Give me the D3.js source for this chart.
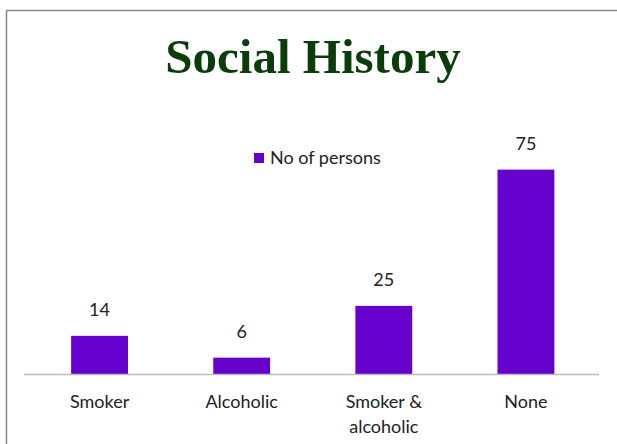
<!DOCTYPE html>
<html>
<head>
<meta charset="utf-8">
<script src="https://cdn.jsdelivr.net/npm/d3@7"></script>
<style>
  body { margin: 0; background: #fff; }
  svg text { font-family: Lato, "Open Sans", sans-serif; fill: #222; }
</style>
</head>
<body>
<div id="chart"></div>
<script>
// chart data
var categories = ["Smoker", "Alcoholic", "Smoker & alcoholic", "None"];
var categoryLines = [["Smoker"], ["Alcoholic"], ["Smoker &", "alcoholic"], ["None"]];
var persons = [14, 6, 25, 75];
var seriesName = "No of persons";
var chartTitle = "Social History";

var width = 617, height = 444;
var svg = d3.select("#chart").append("svg")
  .attr("width", width)
  .attr("height", height);

// outer frame (only top and left edges show)
svg.append("path")
  .attr("d", "M6.5,444 V10.5 H617")
  .attr("fill", "none")
  .attr("stroke", "#888")
  .attr("stroke-width", 1.5);

// title
svg.append("text")
  .attr("x", 313)
  .attr("y", 73)
  .attr("text-anchor", "middle")
  .style("font-family", "'Liberation Serif', 'Times New Roman', serif")
  .style("font-weight", "bold")
  .style("font-size", "49px")
  .style("fill", "#0b3d0b")
  .text(chartTitle);

// scales
var xScale = d3.scaleBand()
  .domain(categories)
  .range([28.5, 597])
  .paddingInner(0.6)
  .paddingOuter(0.3);
var yScale = d3.scaleLinear()
  .domain([0, 80])
  .range([374, 156]);

// bars
svg.selectAll("rect.bar")
  .data(persons)
  .enter().append("rect")
  .attr("class", "bar")
  .attr("x", function(d, i) { return xScale(categories[i]); })
  .attr("y", function(d) { return yScale(d); })
  .attr("width", xScale.bandwidth())
  .attr("height", function(d) { return yScale(0) - yScale(d); })
  .attr("fill", "#6600cc");

// axis line
svg.append("line")
  .attr("x1", 24).attr("x2", 599)
  .attr("y1", 374.5).attr("y2", 374.5)
  .attr("stroke", "#bbb")
  .attr("stroke-width", 1.5);

// value labels
svg.selectAll("text.value")
  .data(persons)
  .enter().append("text")
  .attr("class", "value")
  .attr("x", function(d, i) { return xScale(categories[i]) + xScale.bandwidth() / 2; })
  .attr("y", function(d) { return yScale(d) - 20; })
  .attr("text-anchor", "middle")
  .style("font-size", "18px")
  .text(function(d) { return d; });

// category labels
var catLabels = svg.selectAll("text.cat")
  .data(categoryLines)
  .enter().append("text")
  .attr("class", "cat")
  .attr("text-anchor", "middle")
  .style("font-size", "18px")
  .attr("transform", function(d, i) {
    return "translate(" + (xScale(categories[i]) + xScale.bandwidth() / 2) + ",408)";
  });
catLabels.selectAll("tspan")
  .data(function(d) { return d; })
  .enter().append("tspan")
  .attr("x", 0)
  .attr("y", function(d, i) { return i * 25; })
  .text(function(d) { return d; });

// legend
var legend = svg.append("g").attr("transform", "translate(254,153)");
legend.append("rect")
  .attr("width", 10).attr("height", 10)
  .attr("fill", "#6600cc");
legend.append("text")
  .attr("x", 16)
  .attr("y", 11)
  .style("font-size", "18px")
  .text(seriesName);
</script>
</body>
</html>
